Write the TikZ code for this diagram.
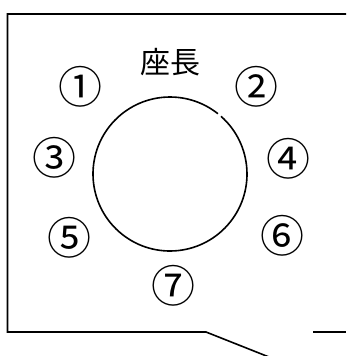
\documentclass[tikz,border=0pt]{standalone}
\usepackage{fontspec}
\newfontfamily\cjk{Noto Sans CJK JP}
\begin{document}
\begin{tikzpicture}[x=1pt,y=-1pt,
  frame/.style={line width=1.6pt,black},
  lbl/.style={font=\cjk\fontsize{30}{30}\selectfont,inner sep=0pt},
  num/.style={font=\cjk\fontsize{44}{44}\selectfont,inner sep=0pt}]
\useasboundingbox (0,0) rectangle (346,356);
\coordinate (tr) at (346,14);
\coordinate (tl) at (7.5,14);
\coordinate (bl) at (7.5,332);
\coordinate (bm) at (206,332);
\coordinate (bd) at (269,357);
\coordinate (rs) at (313,332);
\coordinate (re) at (346,332);
\draw[frame] (tr) -- (tl) -- (bl) -- (bm) -- (bd);
\draw[frame] (rs) -- (re);
\coordinate (c) at (170,174);
\draw[line width=1.6pt] ([shift={(-48.5:77)}]c) arc[start angle=-48.5, end angle=308.5, radius=77];
\node[lbl] (chair) at (170,62) {座長};
\node[num] (n1) at (80,87) {①};
\node[num] (n2) at (256,87) {②};
\node[num] (n3) at (54,158) {③};
\node[num] (n4) at (288,159) {④};
\node[num] (n5) at (69,238) {⑤};
\node[num] (n6) at (282,236) {⑥};
\node[num] (n7) at (173,286) {⑦};
\end{tikzpicture}
\end{document}
